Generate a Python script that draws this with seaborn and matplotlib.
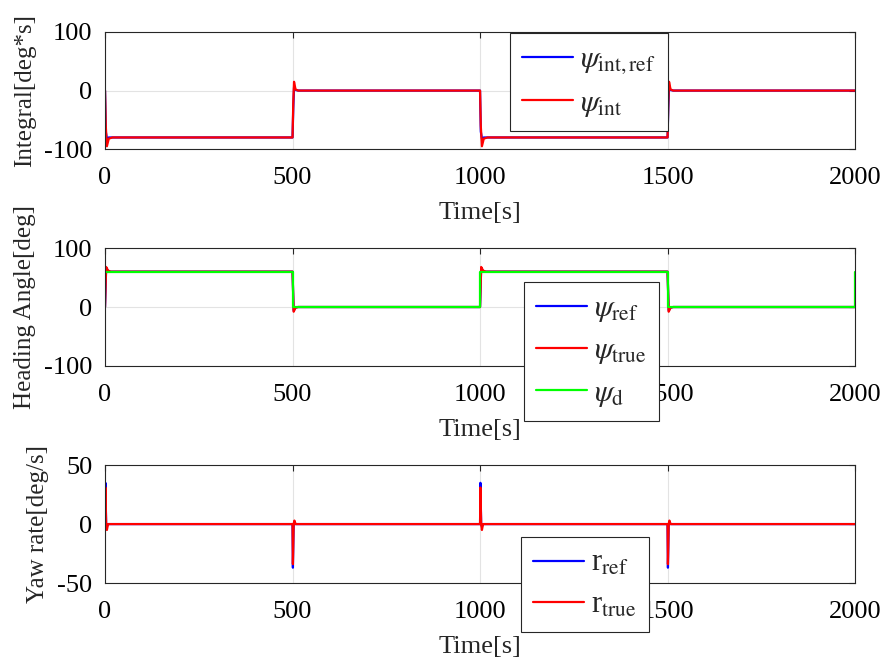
import matplotlib
matplotlib.use("Agg")
import matplotlib.pyplot as plt
import seaborn as sns

# ---- Integral of heading error [deg*s] ----
t_int = [0, 2, 5, 10, 20, 500, 502, 504, 508, 515, 1000, 1002, 1005, 1010, 1020,
         1500, 1502, 1504, 1508, 1515, 2000]
psi_int_ref = [0, -70, -82, -80, -80, -80, -30, 5, 1, 0, 0, -70, -82, -80, -80,
               -80, -30, 5, 1, 0, 0]
psi_int = [0, -60, -95, -82, -80, -80, -20, 15, 2, 0, 0, -60, -95, -82, -80,
           -80, -20, 15, 2, 0, 0]

# ---- Heading angle [deg] ----
t_head = [0, 3, 8, 15, 500, 503, 508, 515, 1000, 1003, 1008, 1015,
          1500, 1503, 1508, 1515, 2000]
psi_ref = [0, 66, 61, 60, 60, -6, -1, 0, 0, 66, 61, 60, 60, -6, -1, 0, 0]
psi_true = [0, 68, 62, 60, 60, -8, -1, 0, 0, 68, 62, 60, 60, -8, -1, 0, 0]
t_d = [0, 500, 500, 1000, 1000, 1500, 1500, 2000, 2000]
psi_d = [60, 60, 0, 0, 60, 60, 0, 0, 60]

# ---- Yaw rate [deg/s] ----
t_yaw = [0, 1, 3, 5, 8, 500, 501, 503, 505, 508, 1000, 1001, 1003, 1005, 1008,
         1500, 1501, 1503, 1505, 1508, 2000]
r_ref = [0, 35, 0, -2, 0, 0, -37, 0, 2, 0, 0, 35, 0, -2, 0, 0, -37, 0, 2, 0, 0]
r_true = [0, 31, 0, -5, 0, 0, -34, 0, 3, 0, 0, 31, 0, -5, 0, 0, -34, 0, 3, 0, 0]

x_ticks = [0, 500, 1000, 1500, 2000]

sns.set_style("white")
plt.rcParams["font.family"] = ["Liberation Serif", "DejaVu Serif"]
plt.rcParams["mathtext.fontset"] = "stix"
plt.rcParams["axes.unicode_minus"] = False
FS = 19
YFS = 18
LFS = 22

fig = plt.figure(figsize=(8.87, 6.66), dpi=100)
left, width = 0.1184, 0.8456
ax1 = fig.add_axes([left, 0.776, width, 0.176])
ax2 = fig.add_axes([left, 0.4505, width, 0.177])
ax3 = fig.add_axes([left, 0.1246, width, 0.177])

BLUE, RED, GREEN = "#0000ff", "#ff0000", "#00ff00"
LW = 1.6


def draw(ax, t, y, color, label):
    sns.lineplot(x=t, y=y, ax=ax, color=color, label=label, linewidth=LW,
                 estimator=None, sort=False)


draw(ax1, t_int, psi_int_ref, BLUE, r"$\psi_{\mathrm{int,ref}}$")
draw(ax1, t_int, psi_int, RED, r"$\psi_{\mathrm{int}}$")

draw(ax2, t_head, psi_ref, BLUE, r"$\psi_{\mathrm{ref}}$")
draw(ax2, t_head, psi_true, RED, r"$\psi_{\mathrm{true}}$")
draw(ax2, t_d, psi_d, GREEN, r"$\psi_{\mathrm{d}}$")

draw(ax3, t_yaw, r_ref, BLUE, r"r$_{\mathrm{ref}}$")
draw(ax3, t_yaw, r_true, RED, r"r$_{\mathrm{true}}$")

specs = [
    (ax1, "Integral[deg*s]", (-100, 100), [-100, 0, 100]),
    (ax2, "Heading Angle[deg]", (-100, 100), [-100, 0, 100]),
    (ax3, "Yaw rate[deg/s]", (-50, 50), [-50, 0, 50]),
]
for ax, ylab, ylim, yt in specs:
    ax.set_xlim(0, 2000)
    ax.set_ylim(*ylim)
    ax.set_xticks(x_ticks)
    ax.set_yticks(yt)
    ax.set_xlabel("Time[s]", fontsize=FS, labelpad=9)
    ax.set_ylabel(ylab, fontsize=YFS, labelpad=6)
    ax.grid(True, color="#e3e3e3", linewidth=0.8)
    ax.set_axisbelow(True)
    ax.tick_params(axis="both", direction="in", length=4, width=0.8,
                   labelsize=FS, colors="#262626", top=True, right=True,
                   labelcolor="black")
    ax.tick_params(axis="x", pad=13)
    ax.tick_params(axis="y", pad=9)
    for s in ax.spines.values():
        s.set_color("#262626")
        s.set_linewidth(0.8)
        s.set_visible(True)
    if ax.get_legend():
        ax.get_legend().remove()

legend_boxes = [
    (ax1, (510 / 887, 1 - 33 / 666)),
    (ax2, (524 / 887, 1 - 282 / 666)),
    (ax3, (521 / 887, 1 - 537 / 666)),
]
for ax, anchor in legend_boxes:
    h, l = ax.get_legend_handles_labels()
    leg = fig.legend(h, l, loc="upper left", bbox_to_anchor=anchor,
                     bbox_transform=fig.transFigure, fontsize=LFS,
                     frameon=True, fancybox=False, framealpha=1,
                     edgecolor="#262626", handlelength=1.65, borderpad=0.4,
                     labelspacing=0.4, handletextpad=0.25, borderaxespad=0)
    leg.get_frame().set_linewidth(0.8)

fig.savefig("out.png", dpi=100)
